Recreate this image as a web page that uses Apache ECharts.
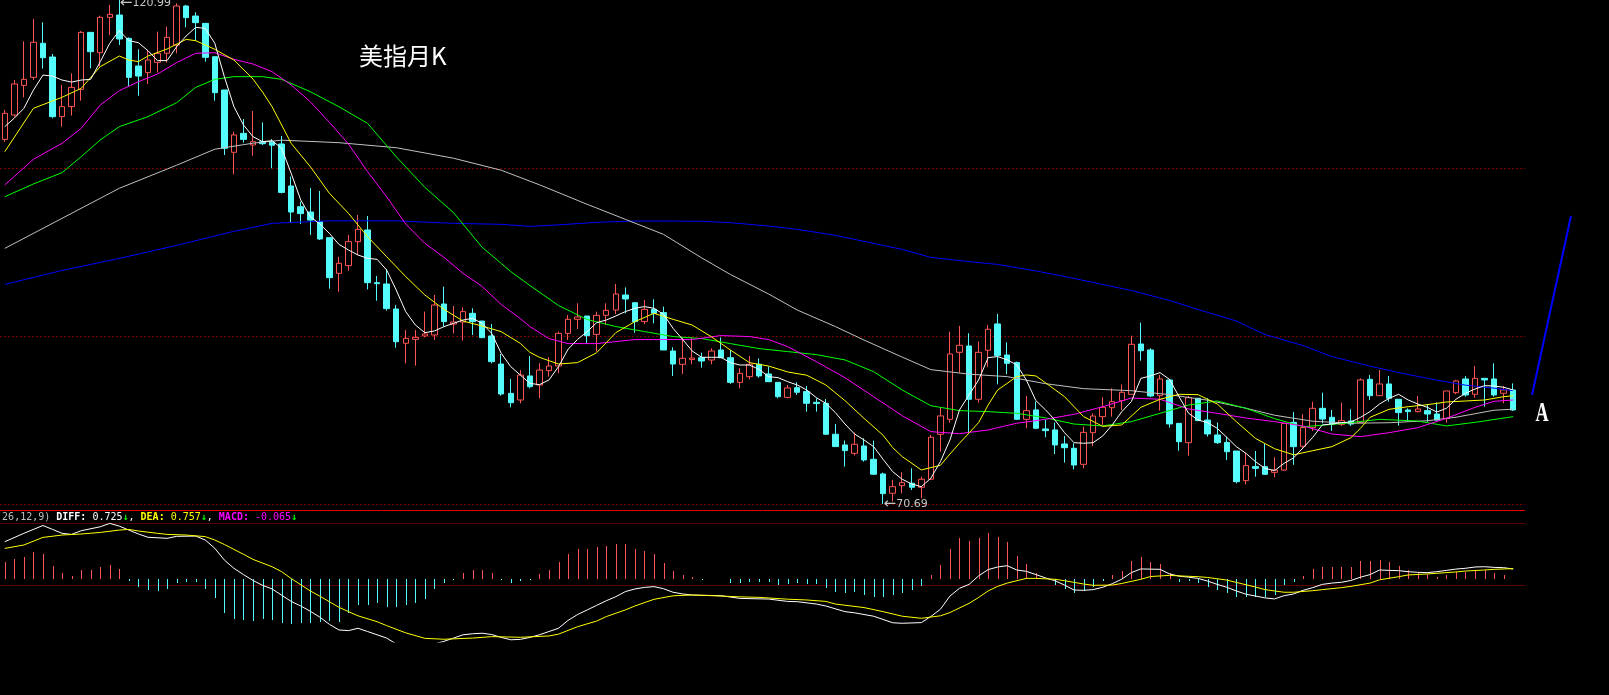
<!DOCTYPE html>
<html><head><meta charset="utf-8">
<script src="https://cdn.jsdelivr.net/npm/echarts@6/dist/echarts.min.js"></script>
<style>html,body{margin:0;padding:0;background:#000;overflow:hidden}#c{width:1609px;height:695px}</style>
</head><body><div id="c"></div>
<script>
// ---------- monthly candles (open, close, low, high) ----------
const opens = [107.08,109.51,112.47,113.27,116.67,115.30,109.35,110.35,112.07,117.76,
115.73,119.26,119.49,117.16,114.40,113.74,114.77,115.67,116.50,120.39,
119.39,118.66,115.33,112.01,105.79,107.68,106.52,106.85,106.80,106.62,
102.43,100.36,99.83,98.87,97.27,93.71,94.48,96.87,98.04,92.78,
92.65,90.15,86.73,87.12,87.46,87.56,90.65,88.65,88.85,89.72,
88.95,87.46,84.66,81.73,81.07,83.47,82.57,84.00,84.46,87.72,
89.12,89.45,87.62,89.52,90.05,91.55,90.78,88.89,90.12,89.79,
85.96,84.63,85.10,85.29,85.06,86.06,85.29,82.83,83.40,84.63,
83.67,82.83,81.33,82.30,81.91,80.84,80.74,77.65,76.58,75.75,
76.48,75.15,73.69,71.76,72.52,72.76,72.36,73.16,77.65,79.14,
85.83,86.46,81.14,86.03,88.66,85.56,84.80,79.14,80.08,78.18,
78.08,76.68,76.25,74.65,77.81,79.41,80.30,81.00,81.64,86.66,
86.06,81.50,83.07,78.74,76.81,81.24,79.07,77.58,76.84,75.98,
73.02,74.42,74.42,73.85,74.08,78.84,76.45,78.31,80.24,79.34,
78.64,78.97,78.81,83.13,81.50,82.67,81.14,80.07,79.91,80.01,
79.67,79.24,81.80,83.17,81.64,83.23,83.17,81.74,82.07];
const closes = [109.68,112.61,113.07,116.77,115.23,109.35,110.35,112.27,117.76,115.83,
119.26,119.56,117.10,113.27,113.40,115.00,115.67,117.26,120.39,119.23,
118.73,115.27,111.74,106.19,107.52,107.08,106.85,106.65,106.50,101.79,
99.83,99.67,99.03,97.14,93.28,94.71,96.87,98.10,92.78,92.68,
90.19,86.89,87.22,87.32,87.66,90.55,88.89,88.85,89.89,88.89,
87.29,84.90,81.67,80.80,83.56,82.40,84.06,84.46,87.72,89.12,
89.35,87.49,89.52,90.02,91.65,91.15,88.89,90.12,89.72,86.06,
84.66,85.23,85.26,84.96,85.96,85.29,82.83,83.73,84.63,83.47,
82.90,81.40,82.27,81.84,80.74,80.71,77.65,76.42,76.02,76.65,
75.09,73.66,71.73,72.42,72.82,72.36,73.16,77.35,79.48,85.66,
86.53,81.14,85.83,88.13,85.50,84.73,79.14,80.01,78.25,78.01,
76.58,76.31,74.58,77.84,79.47,80.34,80.90,81.84,86.63,85.99,
81.47,83.17,78.68,76.91,81.30,79.01,77.68,76.81,75.91,72.92,
74.52,74.25,73.65,74.08,78.74,76.41,78.32,80.24,79.17,78.64,
79.01,78.67,83.07,81.50,82.67,81.24,79.81,79.91,80.17,79.67,
79.07,81.97,82.97,81.57,83.23,83.07,81.57,82.07,80.07];
const lows = [106.85,109.35,111.28,113.01,114.14,109.18,108.35,109.45,110.94,114.17,
114.34,117.50,116.50,112.41,111.44,112.61,113.74,114.74,115.67,118.26,
116.93,114.84,110.94,105.52,103.59,106.75,105.45,106.52,104.19,101.69,
98.80,98.63,97.54,97.04,92.18,91.88,93.98,95.54,92.11,90.98,
89.99,86.29,84.73,84.50,87.32,87.06,88.39,87.72,86.99,87.56,
87.29,84.73,81.50,80.34,80.74,82.23,81.24,83.40,83.73,87.06,
88.16,86.66,85.89,88.56,89.65,89.72,87.79,88.65,88.72,86.06,
83.47,83.66,84.63,84.30,84.63,85.29,82.67,82.23,83.13,83.30,
82.90,81.24,81.24,81.57,79.91,79.91,77.58,76.42,74.42,75.52,
74.92,73.59,70.69,70.93,71.76,72.09,71.26,73.10,75.92,78.81,
83.80,77.75,80.81,84.40,82.64,83.64,79.08,78.25,78.15,77.35,
75.68,74.82,74.15,74.25,76.48,78.58,79.41,80.07,81.64,84.99,
81.34,80.01,78.31,76.01,75.52,79.01,77.41,76.68,75.08,72.75,
72.65,73.42,73.65,73.35,74.02,74.60,76.30,77.98,78.74,77.98,
78.48,78.48,78.81,81.07,81.50,80.90,78.51,78.91,79.84,78.91,
79.01,78.81,81.64,81.40,81.30,80.40,81.40,80.74,79.97];
const highs = [110.01,113.01,116.86,119.09,118.76,115.60,112.51,113.67,117.90,117.76,
119.43,120.49,120.99,117.26,116.07,116.00,117.83,118.33,120.66,120.50,
119.76,118.66,115.33,112.01,107.85,109.11,109.91,108.78,107.10,107.42,
103.36,100.86,102.23,101.93,97.27,95.37,97.54,99.53,99.43,93.45,
94.11,90.55,88.06,88.06,89.89,91.55,92.38,90.45,90.32,90.22,
88.95,88.65,85.66,83.17,84.06,85.46,84.73,85.33,87.89,89.55,
90.72,89.45,89.89,90.72,92.65,92.31,90.78,91.05,91.12,90.39,
86.33,87.32,87.32,85.79,86.23,87.32,86.06,84.23,85.46,85.23,
84.40,82.83,82.57,82.84,82.47,81.24,81.17,78.68,77.02,77.81,
77.25,77.02,73.82,73.09,73.86,74.25,73.42,77.58,80.34,87.89,
88.46,87.73,86.90,88.56,89.66,86.83,84.90,81.47,80.91,79.08,
78.81,77.48,76.75,78.41,79.74,81.34,82.23,82.63,87.49,88.79,
86.23,83.56,83.07,78.74,81.47,81.24,81.24,78.81,77.41,75.98,
75.81,75.98,76.68,75.35,78.74,79.88,79.65,80.90,81.80,80.07,
80.80,80.14,83.23,83.57,84.06,83.47,81.14,80.24,81.47,80.67,
80.84,81.97,83.07,83.47,84.46,83.23,84.73,82.47,82.73];

// ---------- moving averages ----------
const ma5 = [108.35,109.2,110.18,112.0,113.5,113.4,113.0,112.8,113.0,113.07,
114.83,116.67,117.93,116.93,116.73,115.93,114.94,114.94,116.33,117.4,
118.26,118.16,116.67,113.34,110.35,108.52,107.35,106.85,106.95,106.19,
103.69,101.03,99.37,98.63,97.70,96.60,96.04,95.54,95.21,95.11,
94.04,92.05,89.88,88.56,87.79,87.96,88.39,88.72,89.05,89.22,
88.72,87.72,85.73,84.40,83.56,82.73,82.60,83.07,84.40,86.13,
87.12,87.89,88.79,89.05,89.45,89.89,90.22,90.39,90.22,89.62,
88.22,87.12,85.96,85.33,85.33,85.33,84.80,84.56,84.56,84.13,
83.40,83.30,82.90,82.57,82.07,81.31,80.74,79.81,78.68,77.68,
77.08,76.42,75.15,73.92,73.16,72.69,72.42,73.26,74.92,77.08,
80.08,81.57,83.07,85.30,85.40,85.07,84.57,83.07,81.01,80.10,
79.07,77.81,76.81,76.75,76.81,77.48,78.58,79.91,80.90,83.23,
83.47,83.80,83.13,81.40,79.74,79.07,78.81,78.24,77.34,76.41,
75.75,74.92,74.25,74.02,74.75,75.30,76.30,77.34,78.58,78.67,
78.81,78.87,79.34,79.91,80.67,81.24,81.64,81.07,80.67,80.34,
79.87,80.24,81.14,81.74,82.17,82.50,82.47,82.34,82.07];

const ma10Idx = [0,3,6,8,10,12,13,14,15,17,19,20,22,24,26,27,28,30,32,34,36,38,40,42,44,46,48,50,52,54,55,56,58,60,62,64,66,68,70,72,74,76,78,80,82,84,86,88,90,92,93,94,96,98,99,100,102,103,104,106,107,108,109,111,113,115,117,119,121,123,125,127,129,131,133,135,137,139,141,142,143,145,147,149,151,153,155,157,158];
const ma10Val = [105.85,110.18,111.28,112.17,114.34,115.40,115.0,114.84,115.40,116.10,117.06,116.93,116.07,115.0,113.1,111.8,110.34,106.68,104.36,101.70,99.70,97.37,95.37,93.38,91.55,90.12,88.95,88.45,87.89,86.72,85.83,85.33,84.66,84.80,85.79,87.79,88.89,89.72,89.12,88.55,87.39,86.06,84.80,84.46,83.87,83.54,82.57,81.01,79.24,77.55,76.32,75.42,74.09,74.55,75.68,76.75,78.81,80.57,82.07,83.40,83.57,83.47,82.80,81.40,79.41,78.44,78.58,80.34,81.14,81.64,81.60,80.67,78.91,77.24,76.21,75.6,76.01,76.41,77.31,78.24,79.34,80.14,80.40,80.60,80.87,80.97,81.07,81.40,81.50];

const ma20Idx = [0,3,6,8,10,12,14,16,18,20,22,24,26,28,30,32,34,36,38,40,42,44,46,48,50,52,54,55,57,59,62,66,69,72,75,78,80,82,85,88,91,94,97,100,103,106,109,112,115,118,121,124,127,130,133,136,139,142,145,148,151,154,156,158];
const ma20Val = [102.53,105.09,106.69,108.18,110.51,111.94,112.84,113.60,114.74,115.67,115.73,115.07,114.60,113.84,112.51,110.84,108.78,106.62,103.86,101.36,98.63,96.70,95.31,93.71,92.4,90.6,89.2,88.4,87.2,86.7,86.7,87.1,87.1,87.1,87.5,87.4,87.1,86.4,84.9,83.3,81.4,79.5,77.91,77.71,78.08,78.75,79.14,79.64,80.40,81.27,81.14,80.17,79.74,79.27,78.91,78.47,77.68,77.41,77.81,78.31,79.24,80.34,80.94,81.07];

const ma30Idx = [0,3,6,8,10,12,15,18,20,22,24,27,29,32,35,38,41,44,47,50,52,53,55,58,61,64,67,70,73,76,79,82,85,88,91,94,97,100,103,106,109,112,115,118,121,124,127,130,133,136,140,144,148,151,154,158];
const ma30Val = [101.36,102.63,103.76,105.35,107.02,108.35,109.35,110.74,112.27,113.07,113.34,113.34,113.07,111.84,110.34,108.68,105.35,102.29,99.77,96.31,94.7,93.88,92.5,90.5,89.1,88.4,87.9,87.4,87.2,86.7,86.2,85.9,85.6,85.07,83.9,82.07,80.5,80.01,79.91,79.74,79.29,78.67,78.48,78.91,79.74,80.57,80.97,80.24,79.21,78.40,78.71,79.14,78.97,78.48,78.84,79.41];

const ma60Idx = [0,6,12,18,22,26,29,35,41,47,52,56,61,65,69,73,76,80,83,87,90,94,97,101,105,109,113,118,122,126,130,133,137,141,145,149,152,156,158];
const ma60Val = [96.2,99.2,102.2,104.5,106.1,106.7,107.0,106.75,106.25,105.2,104.0,102.55,100.6,99.1,97.6,95.25,93.6,91.65,90.05,88.4,87.05,85.35,84.1,83.65,83.4,82.7,82.2,82.0,81.6,81.05,80.25,79.55,78.95,78.75,78.8,79.0,79.35,80.05,80.15];

const ma120Idx = [0,6,12,18,24,28,34,41,47,52,55,58,62,66,70,73,76,80,83,87,90,94,97,101,104,108,111,115,118,122,125,129,132,136,139,143,146,150,153,156,158];
const ma120Val = [92.6,94.0,95.2,96.5,97.9,98.7,98.95,98.95,98.7,98.6,98.4,98.55,98.8,98.93,98.93,98.9,98.77,98.43,98.1,97.5,96.9,96.1,95.3,94.88,94.6,93.95,93.4,92.6,92.0,91.0,90.1,88.95,87.6,86.5,85.4,84.45,83.8,83.05,82.55,82.25,82.0];

// ---------- MACD(26,12,9) ----------
const macdHist = [1.28,1.49,1.67,2.05,1.87,0.98,0.45,0.22,0.65,0.65,
0.90,1.03,0.75,-0.19,-0.62,-0.88,-0.93,-0.80,-0.32,-0.24,
-0.24,-0.80,-1.46,-2.61,-3.09,-3.17,-3.24,-3.12,-3.17,-3.42,
-3.47,-3.37,-3.42,-3.30,-3.22,-3.30,-2.66,-2.02,-2.02,-1.89,
-2.15,-2.15,-2.05,-1.90,-1.59,-0.80,-0.37,-0.11,0.40,0.65,
0.65,0.40,-0.11,-0.37,-0.17,-0.11,0.34,0.65,1.26,1.87,
2.23,2.23,2.43,2.50,2.63,2.63,2.23,2.12,1.87,1.21,
0.57,0.27,0.09,-0.11,-0.04,-0.06,-0.32,-0.32,-0.24,-0.24,
-0.24,-0.50,-0.42,-0.37,-0.42,-0.42,-0.70,-1.01,-1.09,-1.01,
-1.26,-1.39,-1.39,-1.26,-1.09,-0.88,-0.55,0.27,1.03,2.23,
3.11,2.89,3.11,3.45,3.17,2.76,1.72,1.08,0.40,-0.05,
-0.50,-0.83,-1.13,-0.93,-0.62,-0.17,0.27,0.60,1.34,1.67,
1.28,1.11,0.45,-0.24,-0.17,-0.32,-0.62,-0.88,-1.08,-1.44,
-1.44,-1.39,-1.39,-1.26,-0.50,-0.24,0.19,0.70,0.85,0.85,
0.85,0.85,1.34,1.34,1.41,1.26,0.95,0.65,0.52,0.34,
0.14,0.27,0.52,0.52,0.57,0.65,0.45,0.27,-0.065];

const diffIdx = [0,2,4,5,6,7,8,10,11,12,13,14,15,17,18,20,21,22,23,24,25,26,27,28,30,31,32,33,34,35,36,37,38,39,40,41,42,43,44,45,46,47,48,49,50,51,52,53,54,55,56,57,58,59,60,61,62,63,64,65,66,67,68,69,70,71,72,73,75,77,80,82,83,85,86,88,89,91,93,94,96,97,98,99,100,101,102,103,104,105,106,107,108,109,110,111,112,113,114,115,116,117,118,119,121,122,123,124,125,126,127,128,129,130,131,132,133,134,135,136,137,138,139,140,141,142,143,144,145,146,147,148,149,150,151,152,153,154,155,156,157,158];
const diffVal = [2.81,3.45,4.05,3.75,3.45,3.37,3.65,3.95,4.21,4.0,3.70,3.40,3.15,3.07,3.22,3.24,2.94,2.31,1.41,0.78,0.30,-0.15,-0.52,-0.80,-1.75,-2.10,-2.50,-2.95,-3.50,-3.93,-3.98,-3.80,-4.05,-4.30,-4.55,-5.0,-5.1,-5.25,-5.37,-5.0,-4.8,-4.55,-4.3,-4.22,-4.18,-4.28,-4.5,-4.68,-4.65,-4.5,-4.3,-4.05,-3.80,-3.20,-2.75,-2.40,-2.05,-1.70,-1.39,-1.0,-0.80,-0.68,-0.62,-0.78,-1.05,-1.18,-1.26,-1.28,-1.31,-1.52,-1.57,-1.75,-1.77,-1.95,-2.10,-2.53,-2.62,-2.88,-3.38,-3.42,-3.37,-2.90,-2.35,-1.34,-0.75,-0.45,0.2,0.68,0.88,0.98,0.65,0.55,0.30,0.05,-0.17,-0.50,-0.88,-0.90,-0.85,-0.67,-0.40,-0.05,0.45,0.73,0.70,0.35,0.18,0.10,0.01,-0.20,-0.45,-0.67,-0.95,-1.20,-1.34,-1.48,-1.56,-1.31,-1.18,-0.90,-0.70,-0.45,-0.35,-0.29,-0.15,0.10,0.30,0.65,0.62,0.60,0.52,0.47,0.45,0.52,0.62,0.72,0.78,0.88,0.90,0.85,0.83,0.725];

const deaIdx = [0,2,4,6,8,10,12,13,14,16,17,19,21,22,23,25,26,28,29,30,32,33,35,36,37,39,40,42,44,46,49,51,54,57,58,60,62,63,65,66,68,70,72,74,77,79,82,84,86,87,90,92,94,96,98,99,101,102,103,104,105,107,108,110,111,113,114,116,117,119,120,122,123,125,126,128,129,131,132,134,135,137,138,140,141,143,144,146,147,149,150,152,153,155,156,158];
const deaVal = [2.30,2.56,3.14,3.32,3.40,3.52,3.70,3.75,3.63,3.45,3.37,3.32,3.20,2.94,2.60,1.85,1.46,0.90,0.52,0.0,-0.95,-1.35,-2.20,-2.53,-2.85,-3.30,-3.60,-4.15,-4.57,-4.64,-4.55,-4.44,-4.49,-4.39,-4.25,-3.68,-3.25,-2.91,-2.40,-2.10,-1.59,-1.32,-1.26,-1.31,-1.40,-1.44,-1.58,-1.64,-1.75,-1.95,-2.22,-2.53,-2.88,-3.04,-2.85,-2.60,-1.90,-1.45,-0.95,-0.60,-0.35,0.01,0.01,-0.06,-0.17,-0.42,-0.52,-0.50,-0.38,-0.06,0.15,0.24,0.20,0.14,0.08,-0.12,-0.30,-0.65,-0.85,-1.05,-1.05,-0.93,-0.85,-0.70,-0.60,-0.35,-0.10,0.14,0.27,0.35,0.40,0.50,0.57,0.65,0.70,0.757];

const macdParams = '(26,12,9)';
const titleText = '美指月K';

// ---------- chart ----------
const UP = '#ff5454', DOWN = '#54fcfc';
const N = opens.length;
const cats = opens.map((_, i) => String(i + 1));
const candles = opens.map((o, i) => [o, closes[i], lows[i], highs[i]]);
const priceMax = Math.max(...highs), priceMin = Math.min(...lows);
const iMax = highs.indexOf(priceMax), iMin = lows.indexOf(priceMin);
const zip = (idx, val) => idx.map((k, i) => [k, val[i]]);
const fmt = v => v.toFixed(3);

function maLine(data, color) {
  return {type: 'line', xAxisIndex: 0, yAxisIndex: 0, data: data, symbol: 'none', showSymbol: false,
    lineStyle: {width: 1, color: color}, itemStyle: {color: color}, z: 3, silent: true, animation: false};
}

const chart = echarts.init(document.getElementById('c'), null, {renderer: 'canvas', width: 1609, height: 695});
const gLeft = -2, gWidth = 1520;
const macdTop = 523, macdH = 119, macdMin = -4.85, macdMax = 4.24;
const priceStep = (priceMax - priceMin) / 3;

const lastDiff = diffVal[diffVal.length - 1], lastDea = deaVal[deaVal.length - 1], lastHist = macdHist[N - 1];
const mono = '"DejaVu Sans Mono", monospace';
const rs = (c, b) => ({fill: c, fontSize: 10, fontFamily: mono, fontWeight: b ? 'bold' : 'normal'});

chart.setOption({
  backgroundColor: '#000000',
  animation: false,
  grid: [
    {left: gLeft, top: 0, width: gWidth, height: 504},
    {left: gLeft, top: macdTop, width: gWidth, height: macdH}
  ],
  xAxis: [
    {type: 'category', gridIndex: 0, data: cats, boundaryGap: true, show: false},
    {type: 'category', gridIndex: 1, data: cats, boundaryGap: true, show: false}
  ],
  yAxis: [
    {type: 'value', gridIndex: 0, min: priceMin, max: priceMax, interval: priceStep,
      axisLine: {show: false}, axisTick: {show: false}, axisLabel: {show: false}, splitLine: {show: false}},
    {type: 'value', gridIndex: 1, min: macdMin, max: macdMax,
      axisLine: {show: false}, axisTick: {show: false}, axisLabel: {show: false}, splitLine: {show: false}}
  ],
  series: [
    {type: 'candlestick', xAxisIndex: 0, yAxisIndex: 0, data: candles, barWidth: 6, z: 2,
      itemStyle: {color: '#000000', color0: DOWN, borderColor: UP, borderColor0: DOWN, borderWidth: 1},
      markPoint: {
        symbol: 'circle', symbolSize: 1, itemStyle: {color: 'rgba(0,0,0,0)'}, silent: true,
        label: {show: true, position: 'right', distance: 0, color: '#c8c8c8',
          formatter: p => '{a|←}{b|' + p.value.toFixed(2) + '}',
          rich: {a: {fontSize: 15, fontFamily: 'DejaVu Sans', color: '#c8c8c8'},
                 b: {fontSize: 11, fontFamily: 'DejaVu Sans', color: '#c8c8c8'}}},
        data: [
          {coord: [iMax, priceMax], value: priceMax, label: {offset: [0, 3]}},
          {coord: [iMin, priceMin], value: priceMin}
        ]
      }
    },
    maLine(zip(ma120Idx, ma120Val), '#0000ff'),
    maLine(zip(ma60Idx, ma60Val), '#c0c0c0'),
    maLine(zip(ma30Idx, ma30Val), '#00ff00'),
    maLine(zip(ma20Idx, ma20Val), '#ff00ff'),
    maLine(zip(ma10Idx, ma10Val), '#ffff00'),
    maLine(ma5, '#ffffff'),
    {type: 'custom', xAxisIndex: 1, yAxisIndex: 1, data: macdHist.map((v, i) => [i, v]), silent: true,
      encode: {x: 0, y: 1}, z: 2,
      renderItem: (params, api) => {
        const i = api.value(0), v = api.value(1);
        const p0 = api.coord([i, 0]), p1 = api.coord([i, v]);
        const x = Math.round(p0[0]) + 0.5;
        return {type: 'line', shape: {x1: x, y1: Math.round(p0[1]), x2: x, y2: Math.round(p1[1])},
          style: {stroke: v >= 0 ? UP : DOWN, lineWidth: 1}};
      }},
    {type: 'line', xAxisIndex: 1, yAxisIndex: 1, data: zip(diffIdx, diffVal), symbol: 'none',
      lineStyle: {width: 1, color: '#ffffff'}, z: 3, silent: true},
    {type: 'line', xAxisIndex: 1, yAxisIndex: 1, data: zip(deaIdx, deaVal), symbol: 'none',
      lineStyle: {width: 1, color: '#ffff00'}, z: 4, silent: true}
  ]
});

// horizontal rules: price grid at min + n*step (positions from the price axis), MACD pane rules
const rules = [0, 1, 2].map(n => {
  const y = Math.round(chart.convertToPixel({yAxisIndex: 0}, priceMin + n * priceStep)) + 0.5;
  return {type: 'line', shape: {x1: 0, y1: y, x2: 1525, y2: y}, silent: true, z: 1,
    style: {stroke: '#7a0000', lineWidth: 1, lineDash: [2, 2]}};
});

chart.setOption({
  graphic: rules.concat([
    {type: 'line', shape: {x1: 0, y1: 510.5, x2: 1525, y2: 510.5}, style: {stroke: '#e80000', lineWidth: 1}, silent: true},
    {type: 'line', shape: {x1: 0, y1: 523.5, x2: 1525, y2: 523.5}, style: {stroke: '#5a0000', lineWidth: 1}, silent: true},
    {type: 'line', shape: {x1: 0, y1: 585.5, x2: 1525, y2: 585.5}, style: {stroke: '#5a0000', lineWidth: 1}, silent: true},
    {type: 'text', x: 359, y: 56, silent: true,
      style: {text: titleText, fill: '#ffffff', font: '24px "Noto Sans CJK SC"', textVerticalAlign: 'middle'}},
    {type: 'text', x: 1542, y: 414, scaleX: 0.65, silent: true,
      style: {text: 'A', fill: '#ffffff', font: 'bold 28px "Liberation Serif"', textAlign: 'center', textVerticalAlign: 'middle'}},
    {type: 'polyline', shape: {points: [[1532, 395], [1571, 216]]}, style: {stroke: '#0000ff', lineWidth: 2}, silent: true},
    {type: 'text', x: -28, y: 517, silent: true,
      style: {
        text: '{g|MACD' + macdParams + '} {w|DIFF:} {w2|' + fmt(lastDiff) + '}{gr|↓}{w2|, }{y|DEA:} {y2|' + fmt(lastDea) + '}{gr|↓}{w2|, }{m|MACD:} {m2|' + fmt(lastHist) + '}{gr|↓}',
        font: '10px ' + mono, textVerticalAlign: 'middle',
        rich: {g: rs('#c0c0c0'), w: rs('#ffffff', true), w2: rs('#ffffff'), y: rs('#ffff00', true), y2: rs('#ffff00'),
               m: rs('#ff00ff', true), m2: rs('#ff00ff'), gr: rs('#00ff00', true)}
      }}
  ])
});
</script>
</body></html>
